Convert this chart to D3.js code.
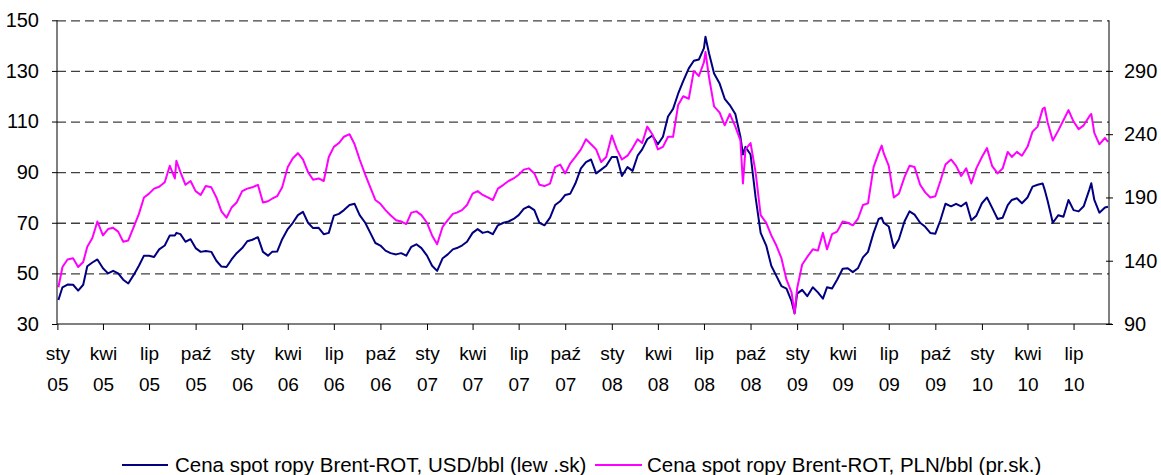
<!DOCTYPE html>
<html>
<head>
<meta charset="utf-8">
<script src="https://cdn.jsdelivr.net/npm/d3@7"></script>
<style>
  body { margin: 0; background: #fff; }
  svg { display: block; font-family: "Liberation Sans", Arial, sans-serif; }
</style>
</head>
<body>
<svg id="chart" width="1161" height="475"></svg>
<script>
// Brent spot
const dates = [
  "2005-01-03","2005-01-11","2005-01-21","2005-02-01","2005-02-11","2005-02-21","2005-03-01","2005-03-11","2005-03-21",
  "2005-04-01","2005-04-11","2005-04-21","2005-05-01","2005-05-11","2005-05-21","2005-06-01","2005-06-11","2005-06-21",
  "2005-07-01","2005-07-11","2005-07-21","2005-08-01","2005-08-11","2005-08-21","2005-08-24","2005-09-01","2005-09-11","2005-09-21",
  "2005-10-01","2005-10-11","2005-10-21","2005-11-01","2005-11-11","2005-11-21","2005-12-01","2005-12-11","2005-12-21",
  "2006-01-01","2006-01-11","2006-01-21","2006-02-01","2006-02-11","2006-02-21","2006-03-01","2006-03-11","2006-03-21",
  "2006-04-01","2006-04-11","2006-04-21","2006-05-01","2006-05-11","2006-05-21","2006-06-01","2006-06-11","2006-06-21",
  "2006-07-01","2006-07-11","2006-07-21","2006-08-01","2006-08-11","2006-08-21","2006-09-01","2006-09-11","2006-09-21",
  "2006-10-01","2006-10-11","2006-10-21","2006-11-01","2006-11-11","2006-11-21","2006-12-01","2006-12-11","2006-12-21",
  "2007-01-01","2007-01-11","2007-01-21","2007-02-01","2007-02-11","2007-02-21","2007-03-01","2007-03-11","2007-03-21",
  "2007-04-01","2007-04-11","2007-04-21","2007-05-01","2007-05-11","2007-05-21","2007-06-01","2007-06-11","2007-06-21",
  "2007-07-01","2007-07-11","2007-07-21","2007-08-01","2007-08-11","2007-08-21","2007-09-01","2007-09-11","2007-09-21",
  "2007-10-01","2007-10-11","2007-10-21","2007-11-01","2007-11-11","2007-11-21","2007-12-01","2007-12-11","2007-12-21",
  "2008-01-01","2008-01-11","2008-01-21","2008-02-01","2008-02-11","2008-02-21","2008-03-01","2008-03-11","2008-03-21",
  "2008-04-01","2008-04-11","2008-04-21","2008-05-01","2008-05-11","2008-05-21","2008-06-01","2008-06-11","2008-06-21",
  "2008-07-01","2008-07-04","2008-07-11","2008-07-21","2008-08-01","2008-08-11","2008-08-21","2008-09-01","2008-09-11","2008-09-16","2008-09-21",
  "2008-10-01","2008-10-11","2008-10-21","2008-11-01","2008-11-11","2008-11-21","2008-12-01","2008-12-11","2008-12-21","2008-12-27",
  "2009-01-01","2009-01-11","2009-01-21","2009-02-01","2009-02-11","2009-02-21","2009-03-01","2009-03-11","2009-03-21",
  "2009-04-01","2009-04-11","2009-04-21","2009-05-01","2009-05-11","2009-05-21","2009-06-01","2009-06-11","2009-06-17","2009-06-21",
  "2009-07-01","2009-07-11","2009-07-21","2009-08-01","2009-08-11","2009-08-21","2009-09-01","2009-09-11","2009-09-21",
  "2009-10-01","2009-10-11","2009-10-21","2009-11-01","2009-11-11","2009-11-21","2009-12-01","2009-12-11","2009-12-21",
  "2010-01-01","2010-01-11","2010-01-21","2010-02-01","2010-02-11","2010-02-21","2010-03-01","2010-03-11","2010-03-21",
  "2010-04-01","2010-04-11","2010-04-21","2010-05-01","2010-05-05","2010-05-11","2010-05-21","2010-06-01","2010-06-11","2010-06-21",
  "2010-07-01","2010-07-11","2010-07-21","2010-08-01","2010-08-05","2010-08-11","2010-08-21","2010-09-01","2010-09-07"
];

const usd = [
  39.5,44.5,45.6,45.5,43.2,45.5,52.8,54.3,55.5,
  52,50,51,50,47.5,46,49.5,53,57,
  57,56.5,59.5,61,65,65,66,65.5,62.5,63.5,
  60,58.5,58.8,58.5,55,52.7,52.5,55.5,58,
  60,62.7,63.3,64.3,58.5,57,58.5,58.6,63.5,
  67.5,70,73,74.3,70,67.9,68,65.5,66,
  72.8,73.5,75,77,77.5,73,70,66,62,
  61,59,58,57.5,58,57,60.5,61.5,60,
  57,53,51,56,57.5,59.5,60,61,62.5,
  66,67.5,66,66.5,65.5,69,70,70.5,71.5,
  73,75.5,76.5,75,70,69,72,77,78.5,
  81,81.5,85.5,91.5,94,95,89.5,91,92.5,
  96,96,88.5,92,90.5,96.5,99,103,104.5,
  101,104,112,115,121,126,131,134,134.5,
  139,143.5,137,129,125,119,116.5,113,104,97,100,
  97,80,66,61,53,49,45,44,39,34.2,
  42,43.5,41,44.5,42.5,40,44.5,44,47.5,
  51.8,52,50.5,52,56.3,58.5,66,71.5,72,70,
  68.5,60,63.5,70.5,74.5,73.2,70,68.4,66,
  65.7,71,77.5,76.5,77.5,76.5,78,71,72.8,
  77.7,80,76,71.5,72,77,79,79.7,77.7,
  80,84.3,85,85.5,83,78.5,70,73,72.4,79,
  75,74.5,76.5,83,85.6,79,74,76,76.3
];

const pln = [
  119,135,141,142,135,139,151,158,171,
  160,165,166,163,155,156,167,177,190,
  193,197,198.5,202,215,205,219,210,200,203,
  195,192,199,198,190,179,174,182,186,
  195,197,198,200,186,187,189,191,198,
  214,221,225,220,210,204,205,203,222,
  230,233,238,240,232,220,208,198,188,
  185,180,176,172,171,169,178,179,176,
  170,160,153,167,172,177,178,180,184,
  193,195,192,190,188,197,200,203,205,
  208,212,213,209,200,199,201,214,216,
  209,217,222,228,236,232,228,218,222,
  239,228,220,223,229,236,233,246,240,
  228,230,238,238,263,270,268,290,286,
  297,305,285,262,257,247,256,246,235,201,228,
  233,210,176,170,160,152,142,125,115,98.4,
  118,137,143,149,148,162,149,161,163,
  171,170,168,173,184,185.3,214,225,231,225,
  215,190,193,206,215,214,200,194,190,
  191,203,216,220,215,207,213,201,213,
  222,229,215,209,213,226,222,226,223,
  230,242,246,260,261,249,235,243,251,259,
  250,244,247,254,256,241,232,237,234
];

const leftTicks = [30, 50, 70, 90, 110, 130, 150];
const rightTicks = [90, 140, 190, 240, 290];
const monthLabels = ["sty", "kwi", "lip", "paź"];
const seriesNames = [
  "Cena spot ropy Brent-ROT, USD/bbl (lew .sk)",
  "Cena spot ropy Brent-ROT, PLN/bbl (pr.sk.)"
];
const seriesColors = ["#000080", "#ff00ff"];

const parse = d3.timeParse("%Y-%m-%d");
const data = dates.map((d, i) => ({ date: parse(d), usd: usd[i], pln: pln[i] }));

const plotLeft = 57, plotRight = 1109, plotTop = 20.3, plotBottom = 324;

const x = d3.scaleTime()
  .domain([new Date(2005, 0, 1), new Date(2010, 8, 9)])
  .range([57.4, plotRight]);
const yL = d3.scaleLinear().domain([30, 150]).range([plotBottom, plotTop]);
const yR = d3.scaleLinear().domain([90, 330]).range([plotBottom, plotTop]);

const svg = d3.select("#chart");
const fontFamily = "Liberation Sans, Arial, sans-serif";

// dashed gridlines
svg.append("g")
  .attr("transform", `translate(${plotLeft},0)`)
  .call(d3.axisLeft(yL).tickValues(leftTicks.slice(1)).tickSize(-(plotRight - plotLeft)).tickFormat(""))
  .call(g => g.select(".domain").remove())
  .call(g => g.selectAll("line")
    .attr("stroke", "#404040")
    .attr("stroke-width", 1.3)
    .attr("stroke-dasharray", "9,5"));

// series
const lineUsd = d3.line().x(d => x(d.date)).y(d => yL(d.usd));
const linePln = d3.line().x(d => x(d.date)).y(d => yR(d.pln));

svg.append("path").datum(data)
  .attr("fill", "none").attr("stroke", seriesColors[0]).attr("stroke-width", 2)
  .attr("stroke-linejoin", "round").attr("d", lineUsd);
svg.append("path").datum(data)
  .attr("fill", "none").attr("stroke", seriesColors[1]).attr("stroke-width", 2)
  .attr("stroke-linejoin", "round").attr("d", linePln);

// left axis
svg.append("g")
  .attr("transform", `translate(${plotLeft},0)`)
  .call(d3.axisLeft(yL).tickValues(leftTicks).tickSize(5).tickPadding(13))
  .call(g => g.select(".domain").attr("d", `M0,${plotTop}V${plotBottom}`))
  .call(g => g.selectAll("path, line").attr("stroke", "#000"))
  .call(g => g.selectAll("text")
    .attr("font-size", 20).attr("font-family", fontFamily).attr("fill", "#000"));

// right axis
svg.append("g")
  .attr("transform", `translate(${plotRight},0)`)
  .call(d3.axisRight(yR).tickValues(rightTicks).tickSize(4).tickPadding(11))
  .call(g => g.select(".domain").attr("d", `M0,${plotTop}V${plotBottom}`))
  .call(g => g.selectAll(".tick line").attr("x1", -3))
  .call(g => g.selectAll("path, line").attr("stroke", "#000"))
  .call(g => g.selectAll("text")
    .attr("font-size", 20).attr("font-family", fontFamily).attr("fill", "#000"));

// bottom axis
const quarterTicks = d3.timeMonth.every(3).range(new Date(2005, 0, 1), new Date(2010, 7, 1));
const xAxis = svg.append("g")
  .attr("transform", `translate(0,${plotBottom})`)
  .call(d3.axisBottom(x).tickValues(quarterTicks).tickSize(6).tickFormat(""))
  .call(g => g.select(".domain").attr("d", `M${plotLeft},0H${plotRight + 3}`))
  .call(g => g.selectAll("path, line").attr("stroke", "#000"));

xAxis.selectAll(".tick text").remove();
const lbl = xAxis.selectAll(".tick").append("text")
  .attr("text-anchor", "middle")
  .attr("font-size", 19)
  .attr("font-family", fontFamily)
  .attr("fill", "#000");
lbl.append("tspan").attr("x", 0).attr("y", 36).text(d => monthLabels[d.getMonth() / 3]);
lbl.append("tspan").attr("x", 0).attr("y", 67).text(d => d3.timeFormat("%y")(d));

// legend
const legendItems = [
  { x0: 122, x1: 168, tx: 175 },
  { x0: 595, x1: 642, tx: 647 }
];
const leg = svg.append("g");
legendItems.forEach((it, i) => {
  leg.append("line")
    .attr("x1", it.x0).attr("x2", it.x1).attr("y1", 465).attr("y2", 465)
    .attr("stroke", seriesColors[i]).attr("stroke-width", 2);
  leg.append("text")
    .attr("x", it.tx).attr("y", 472)
    .attr("font-size", 20.5).attr("font-family", fontFamily).attr("fill", "#000")
    .text(seriesNames[i]);
});
</script>
</body>
</html>
